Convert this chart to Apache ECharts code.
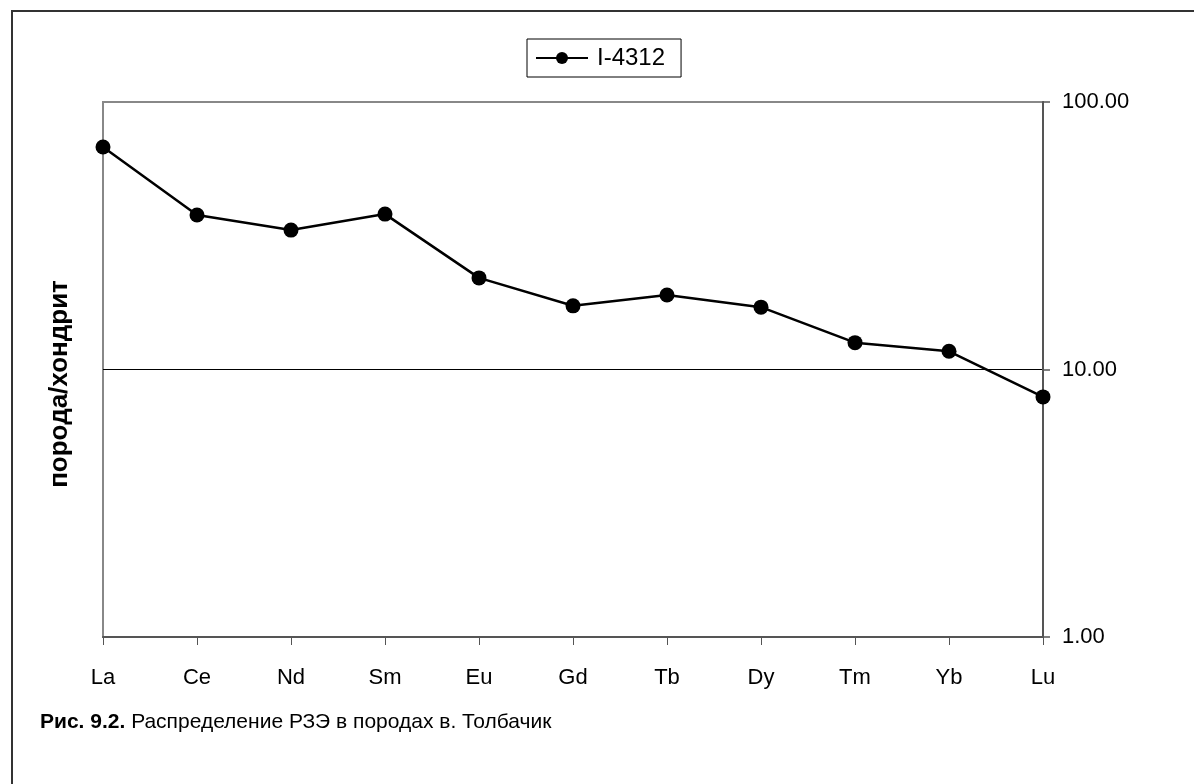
<!DOCTYPE html>
<html>
<head>
<meta charset="utf-8">
<script src="https://cdn.jsdelivr.net/npm/echarts@6/dist/echarts.min.js"></script>
<style>
html,body{margin:0;padding:0;background:#fff;}
#chart{width:1194px;height:784px;}
</style>
</head>
<body>
<div id="chart"></div>
<script>
const categories = ['La','Ce','Nd','Sm','Eu','Gd','Tb','Dy','Tm','Yb','Lu'];
const seriesName = 'I-4312';
const values = [67.9, 37.8, 33.2, 38.1, 22.0, 17.3, 19.0, 17.1, 12.6, 11.7, 7.9];
const yAxisTitle = 'порода/хондрит';
const captionBold = 'Рис. 9.2.';
const captionText = ' Распределение РЗЭ в породах в. Толбачик';

const chart = echarts.init(document.getElementById('chart'), null, {renderer:'canvas'});
const font = 'Arial, "Liberation Sans", sans-serif';
chart.setOption({
  animation: false,
  backgroundColor: '#fff',
  grid: {left: 103, right: 151, top: 102, bottom: 147, show: true, borderColor: '#888', borderWidth: 2, backgroundColor: 'transparent'},
  legend: {
    data: [seriesName],
    left: 527, top: 39,
    itemWidth: 52, itemHeight: 15,
    padding: [7, 16, 7, 8],
    borderColor: '#000', borderWidth: 1, borderRadius: 0,
    textStyle: {fontFamily: font, fontSize: 24, color: '#000', padding: [0, 0, 0, 4]},
    itemGap: 4
  },
  xAxis: {
    type: 'category', data: categories, boundaryGap: false,
    axisLine: {show: true, lineStyle: {color: '#555', width: 2}},
    axisTick: {show: true, length: 8, lineStyle: {color: '#555', width: 1}, alignWithLabel: true},
    axisLabel: {fontFamily: font, fontSize: 22, color: '#000', margin: 30},
    splitLine: {show: false}
  },
  yAxis: {
    type: 'log', logBase: 10, min: 1, max: 100, position: 'right',
    axisLine: {show: true, lineStyle: {color: '#555', width: 2}},
    axisTick: {show: true, length: 7, lineStyle: {color: '#555', width: 1.5}},
    axisLabel: {fontFamily: font, fontSize: 22, color: '#000', margin: 19, formatter: v => v.toFixed(2)},
    splitLine: {show: true, showMinLine: false, showMaxLine: false, lineStyle: {color: '#000', width: 1}}
  },
  series: [{
    name: seriesName, type: 'line', data: values,
    symbol: 'circle', symbolSize: 15,
    lineStyle: {color: '#000', width: 2.5},
    itemStyle: {color: '#000'}
  }],
  graphic: [
    {type: 'line', shape: {x1: 11, y1: 11, x2: 1194, y2: 11}, style: {stroke: '#333', lineWidth: 2}},
    {type: 'line', shape: {x1: 12, y1: 10, x2: 12, y2: 784}, style: {stroke: '#333', lineWidth: 2}},
    {type: 'text', x: 60, y: 384, rotation: Math.PI/2, style: {text: yAxisTitle, fontFamily: font, fontSize: 26, fontWeight: 'bold', fill: '#000', align: 'center', verticalAlign: 'middle'}},
    {type: 'text', x: 40, y: 722, style: {
      text: '{b|' + captionBold + '}{n|' + captionText + '}',
      rich: {b: {fontFamily: font, fontSize: 21, fontWeight: 'bold', fill: '#000'}, n: {fontFamily: font, fontSize: 21, fill: '#000'}},
      verticalAlign: 'middle'}}
  ]
});
</script>
</body>
</html>
